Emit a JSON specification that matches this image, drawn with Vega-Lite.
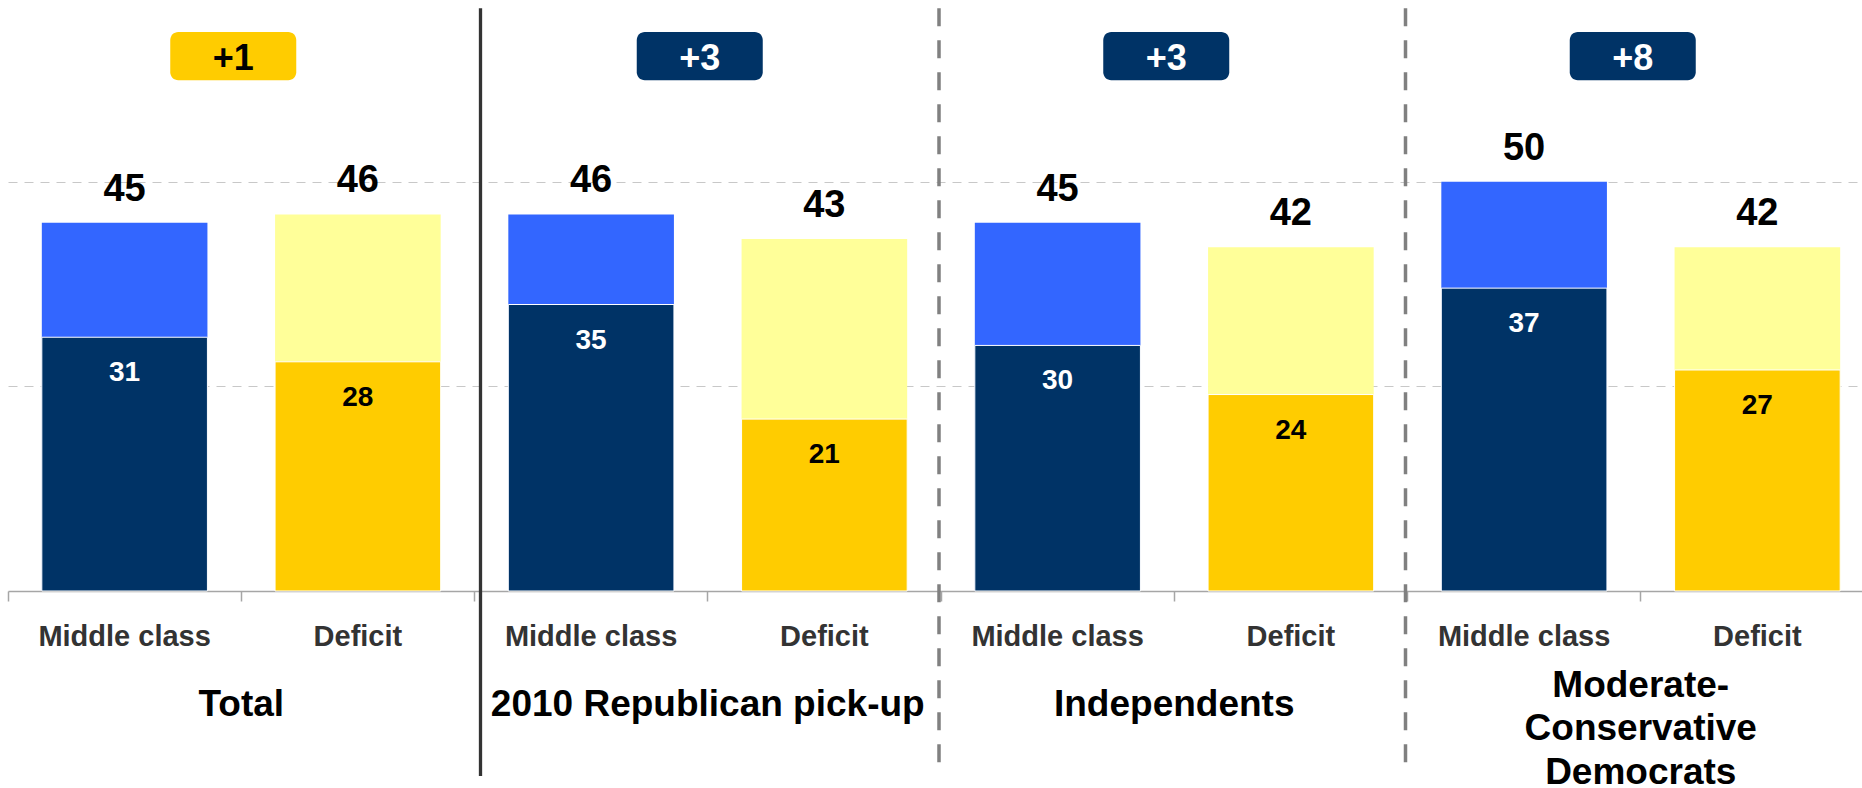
{
  "$schema": "https://vega.github.io/schema/vega-lite/v6.json",
  "autosize": "none",
  "width": 1862,
  "height": 591,
  "padding": {"left": 0, "top": 0, "right": 0, "bottom": 197},
  "background": "white",
  "config": {"view": {"stroke": null}, "font": "Liberation Sans"},
  "datasets": {
    "bars": [
      {"key": "Total|Middle class", "group": "Total", "series": "Middle class", "total": 45, "intense": 31},
      {"key": "Total|Deficit", "group": "Total", "series": "Deficit", "total": 46, "intense": 28},
      {"key": "2010 Republican pick-up|Middle class", "group": "2010 Republican pick-up", "series": "Middle class", "total": 46, "intense": 35},
      {"key": "2010 Republican pick-up|Deficit", "group": "2010 Republican pick-up", "series": "Deficit", "total": 43, "intense": 21},
      {"key": "Independents|Middle class", "group": "Independents", "series": "Middle class", "total": 45, "intense": 30},
      {"key": "Independents|Deficit", "group": "Independents", "series": "Deficit", "total": 42, "intense": 24},
      {"key": "Moderate-Conservative Democrats|Middle class", "group": "Moderate-Conservative Democrats", "series": "Middle class", "total": 50, "intense": 37},
      {"key": "Moderate-Conservative Democrats|Deficit", "group": "Moderate-Conservative Democrats", "series": "Deficit", "total": 42, "intense": 27}
    ],
    "groups": [
      {"group": "Total", "label": "Total", "lines": 1, "margin": "+1", "leader": "Deficit", "sep": "none"},
      {"group": "2010 Republican pick-up", "label": "2010 Republican pick-up", "lines": 1, "margin": "+3", "leader": "Middle class", "sep": "solid"},
      {"group": "Independents", "label": "Independents", "lines": 1, "margin": "+3", "leader": "Middle class", "sep": "dashed"},
      {"group": "Moderate-Conservative Democrats", "label": "Moderate-\nConservative\nDemocrats", "lines": 3, "margin": "+8", "leader": "Middle class", "sep": "dashed"}
    ]
  },
  "layer": [
    {
      "data": {"name": "bars"},
      "encoding": {
        "x": {
          "field": "key", "type": "nominal", "sort": null,
          "scale": {"range": [8, 1874], "paddingInner": 0.29, "paddingOuter": 0.145},
          "axis": {
            "title": null,
            "labelExpr": "split(datum.label, '|')[1]",
            "labelFont": "Liberation Sans", "labelFontWeight": "bold", "labelFontSize": 29,
            "labelColor": "#333333", "labelPadding": 21, "labelAngle": 0, "labelLimit": 400,
            "tickSize": 10, "tickColor": "#a6a6a6", "tickWidth": 1.5,
            "domainColor": "#a6a6a6", "domainWidth": 1.5,
            "bandPosition": -0.204, "grid": false
          }
        }
      },
      "layer": [
        {
          "mark": {"type": "bar"},
          "encoding": {
            "y": {
              "field": "total", "type": "quantitative",
              "scale": {"domain": [0, 72.2], "nice": false},
              "axis": {"values": [25, 50], "grid": true, "gridDash": [9, 7], "gridColor": "#c8c8c8", "gridWidth": 1, "domain": false, "ticks": false, "labels": false, "title": null}
            },
            "color": {"condition": {"test": "datum.series == 'Middle class'", "value": "#3366FF"}, "value": "#FFFF99"}
          }
        },
        {
          "mark": {"type": "bar", "stroke": "white", "strokeWidth": 1},
          "encoding": {
            "y": {"field": "intense", "type": "quantitative", "scale": {"domain": [0, 72.2], "nice": false}},
            "color": {"condition": {"test": "datum.series == 'Middle class'", "value": "#003366"}, "value": "#FFCC00"}
          }
        },
        {
          "mark": {"type": "text", "fontSize": 38, "fontWeight": "bold", "baseline": "alphabetic", "dy": -22, "color": "black"},
          "encoding": {
            "y": {"field": "total", "type": "quantitative", "scale": {"domain": [0, 72.2], "nice": false}},
            "text": {"field": "total", "type": "quantitative"}
          }
        },
        {
          "mark": {"type": "text", "fontSize": 28, "fontWeight": "bold", "baseline": "alphabetic", "dy": 44},
          "encoding": {
            "y": {"field": "intense", "type": "quantitative", "scale": {"domain": [0, 72.2], "nice": false}},
            "text": {"field": "intense", "type": "quantitative"},
            "color": {"condition": {"test": "datum.series == 'Middle class'", "value": "white"}, "value": "black"}
          }
        }
      ]
    },
    {
      "data": {"name": "groups"},
      "encoding": {
        "x": {
          "field": "group", "type": "nominal", "sort": null,
          "scale": {"domain": ["Total", "2010 Republican pick-up", "Independents", "Moderate-Conservative Democrats"], "range": [8, 1874], "paddingInner": 0, "paddingOuter": 0},
          "axis": null
        }
      },
      "layer": [
        {
          "transform": [{"filter": "datum.sep == 'solid'"}],
          "mark": {"type": "rule", "color": "#333333", "strokeWidth": 3.3, "xOffset": 6},
          "encoding": {
            "x": {"field": "group", "type": "nominal", "sort": null, "bandPosition": 0},
            "y": {"datum": 71.2, "type": "quantitative", "scale": {"domain": [0, 72.2], "nice": false}},
            "y2": {"datum": -22.6}
          }
        },
        {
          "transform": [{"filter": "datum.sep == 'dashed'"}],
          "mark": {"type": "rule", "color": "#808080", "strokeWidth": 3.5, "strokeDash": [18, 14], "xOffset": -2},
          "encoding": {
            "x": {"field": "group", "type": "nominal", "sort": null, "bandPosition": 0},
            "y": {"datum": 71.2, "type": "quantitative", "scale": {"domain": [0, 72.2], "nice": false}},
            "y2": {"datum": -22.6}
          }
        },
        {
          "mark": {"type": "bar", "width": 126, "cornerRadius": 8, "xOffset": -8},
          "encoding": {
            "y": {"datum": 68.3, "type": "quantitative", "scale": {"domain": [0, 72.2], "nice": false}},
            "y2": {"datum": 62.4},
            "color": {"condition": {"test": "datum.leader == 'Deficit'", "value": "#FFCC00"}, "value": "#003366"}
          }
        },
        {
          "mark": {"type": "text", "fontSize": 36, "fontWeight": "bold", "baseline": "middle", "align": "center", "xOffset": -8},
          "encoding": {
            "y": {"datum": 65.0, "type": "quantitative", "scale": {"domain": [0, 72.2], "nice": false}},
            "text": {"field": "margin", "type": "nominal"},
            "color": {"condition": {"test": "datum.leader == 'Deficit'", "value": "black"}, "value": "white"}
          }
        },
        {
          "transform": [{"filter": "datum.lines == 1"}],
          "mark": {"type": "text", "fontSize": 37, "fontWeight": "bold", "baseline": "alphabetic", "align": "center", "color": "black"},
          "encoding": {
            "y": {"datum": -15.27, "type": "quantitative", "scale": {"domain": [0, 72.2], "nice": false}},
            "text": {"field": "label", "type": "nominal"}
          }
        },
        {
          "transform": [{"filter": "datum.lines > 1"}],
          "mark": {"type": "text", "fontSize": 37, "fontWeight": "bold", "baseline": "alphabetic", "align": "center", "color": "black", "lineBreak": "\n", "lineHeight": 43.3},
          "encoding": {
            "y": {"datum": -12.95, "type": "quantitative", "scale": {"domain": [0, 72.2], "nice": false}},
            "text": {"field": "label", "type": "nominal"}
          }
        }
      ]
    }
  ],
  "resolve": {"scale": {"x": "independent"}}
}
